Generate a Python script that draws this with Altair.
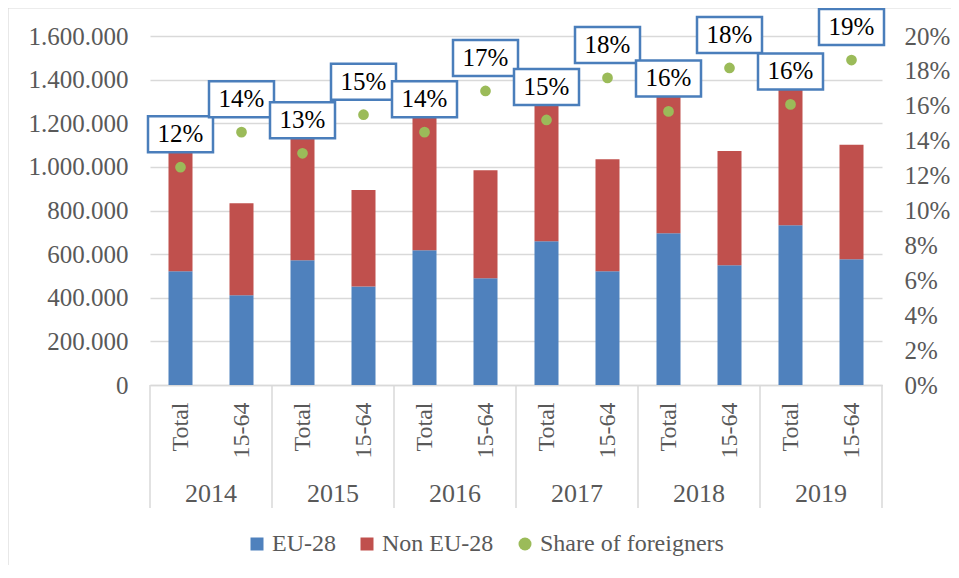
import altair as alt
import pandas as pd

years = ["2014", "2015", "2016", "2017", "2018", "2019"]
groups = ["Total", "15-64"]
series = ["EU-28", "Non EU-28", "Share of foreigners"]

eu_total = [522000, 572000, 618000, 659000, 696000, 732000]
non_total = [544000, 574000, 650000, 683000, 700000, 707000]
eu_1564 = [411000, 452000, 489000, 521000, 549000, 576000]
non_1564 = [422000, 442000, 495000, 514000, 524000, 526000]
share_total = [0.1248, 0.1328, 0.1449, 0.1519, 0.1568, 0.1608]
share_1564 = [0.1449, 0.1549, 0.1685, 0.1760, 0.1817, 0.1862]

W, H = 732, 349
F = "Liberation Serif"
GREY = "#595959"
GRID = "#D9D9D9"
COLORS = ["#4F81BD", "#C0504D", "#9BBB59"]

cats = [f"{y}|{g}" for y in years for g in groups]

bar_rows, pt_rows = [], []
for i, y in enumerate(years):
    bar_rows.append({"cat": f"{y}|Total", "series": "EU-28", "ord": 0, "value": eu_total[i]})
    bar_rows.append({"cat": f"{y}|Total", "series": "Non EU-28", "ord": 1, "value": non_total[i]})
    bar_rows.append({"cat": f"{y}|15-64", "series": "EU-28", "ord": 0, "value": eu_1564[i]})
    bar_rows.append({"cat": f"{y}|15-64", "series": "Non EU-28", "ord": 1, "value": non_1564[i]})
    pt_rows.append({"cat": f"{y}|Total", "series": "Share of foreigners", "share": share_total[i]})
    pt_rows.append({"cat": f"{y}|15-64", "series": "Share of foreigners", "share": share_1564[i]})
bars_df = pd.DataFrame(bar_rows)
pts_df = pd.DataFrame(pt_rows)
year_df = pd.DataFrame({"cat": [f"{y}|Total" for y in years], "year": years})
frame_df = pd.DataFrame({"a": [0]})

STEP = W / 12.0


def xenc():
    return alt.X(
        "cat:N", sort=cats, title=None,
        scale=alt.Scale(domain=cats, paddingInner=0.6, paddingOuter=0.3),
        axis=alt.Axis(
            labelExpr="split(datum.value, '|')[1]", labelAngle=-90,
            labelAlign="right", labelBaseline="middle",
            labelFont=F, labelFontSize=24, labelColor=GREY, labelPadding=17,
            ticks=False, grid=False, domainColor=GRID, domainWidth=1.5,
        ),
    )


legend = alt.Legend(
    orient="none", legendX=95, legendY=496, direction="horizontal", title=None,
    labelFont=F, labelFontSize=24, labelColor=GREY, symbolSize=169,
    labelOffset=3, columnPadding=19, padding=0, symbolStrokeWidth=0,
    labelLimit=400,
)
color_scale = alt.Scale(domain=series, range=COLORS)
shape_scale = alt.Scale(domain=series, range=["square", "square", "circle"])

frame = alt.Chart(frame_df).mark_rect(
    fillOpacity=0, stroke=GRID, strokeWidth=1.2
).encode(
    x=alt.value(-142), x2=alt.value(W + 90), y=alt.value(-28), y2=alt.value(H + 220)
)

bars = alt.Chart(bars_df).mark_bar(size=24).encode(
    x=xenc(),
    y=alt.Y(
        "value:Q", stack="zero", title=None,
        scale=alt.Scale(domain=[0, 1600000], nice=False),
        axis=alt.Axis(
            values=list(range(0, 1600001, 200000)),
            labelExpr="replace(format(datum.value, ','), /,/g, '.')",
            grid=True, gridColor=GRID, gridWidth=1.5, domain=False, ticks=False,
            labelFont=F, labelFontSize=25, labelColor=GREY, labelPadding=22,
        ),
    ),
    color=alt.Color("series:N", scale=color_scale, legend=legend),
    order=alt.Order("ord:Q"),
)

seps = alt.Chart(year_df).mark_rule(color=GRID, strokeWidth=1.5, xOffset=-STEP / 2).encode(
    x=xenc(), y=alt.value(H), y2=alt.value(H + 123)
)
sep_end = alt.Chart(frame_df).mark_rule(color=GRID, strokeWidth=1.5).encode(
    x=alt.value(W), y=alt.value(H), y2=alt.value(H + 123)
)
year_txt = alt.Chart(year_df).mark_text(
    font=F, fontSize=26, color=GREY, baseline="middle", xOffset=STEP / 2
).encode(x=xenc(), y=alt.value(H + 109), text="year:N")

share_y = alt.Y(
    "share:Q", title=None,
    scale=alt.Scale(domain=[0, 0.2], nice=False),
    axis=alt.Axis(
        orient="right", values=[round(i * 0.02, 2) for i in range(11)], format=".0%",
        grid=False, domain=False, ticks=False,
        labelFont=F, labelFontSize=25, labelColor=GREY, labelPadding=22,
    ),
)

dots = alt.Chart(pts_df).mark_point(filled=True, size=115, opacity=1).encode(
    x=xenc(), y=share_y,
    color=alt.Color("series:N", scale=color_scale, legend=legend),
    shape=alt.Shape("series:N", scale=shape_scale, legend=legend),
)

BOX = "M-1,-1.569L1,-1.569L1,-0.4615L-1,-0.4615Z"
boxes = alt.Chart(pts_df).mark_point(
    shape=BOX, size=4225, filled=True, fill="white", stroke="#4A7EBB",
    strokeWidth=2.5, opacity=1
).encode(x=xenc(), y=share_y)

labels = alt.Chart(pts_df).mark_text(
    font=F, fontSize=25, color="black", baseline="middle", dy=-33
).encode(x=xenc(), y=share_y, text=alt.Text("share:Q", format=".0%"))

left = alt.layer(frame, bars, seps, sep_end, year_txt)
right = alt.layer(dots, boxes, labels)

chart = alt.layer(left, right).resolve_scale(y="independent").properties(
    width=W, height=H,
    autosize=alt.AutoSizeParams(type="none"),
    padding={"left": 142, "top": 28, "right": 69, "bottom": 180},
).configure(font=F).configure_view(stroke=None).configure_legend(
    labelFont=F, labelFontSize=24, labelColor=GREY, labelLimit=400
)

chart.save("out.html", embed_options={"renderer": "svg", "actions": False})
